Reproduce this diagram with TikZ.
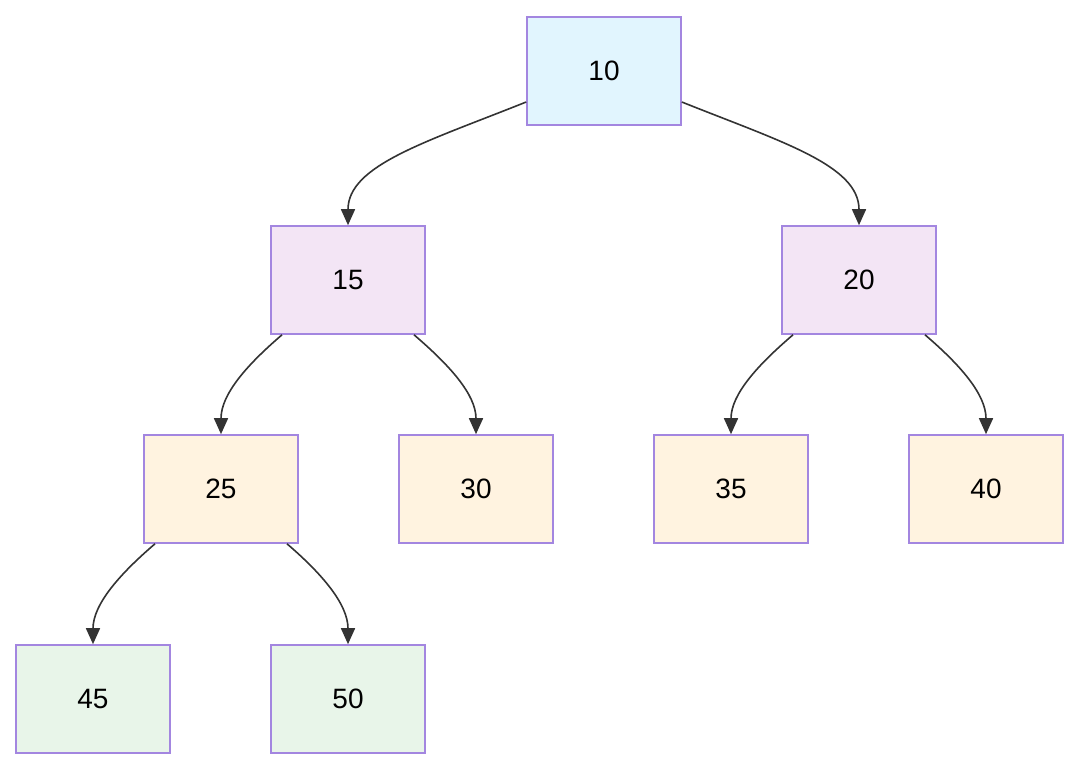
\documentclass[tikz,border=0pt]{standalone}
\usepackage{fontspec}
\setmainfont{Liberation Sans}
\usetikzlibrary{arrows.meta}
\definecolor{bordc}{HTML}{A386E0}
\definecolor{rootc}{HTML}{E1F5FE}
\definecolor{midc}{HTML}{F3E5F5}
\definecolor{lvlc}{HTML}{FFF3E0}
\definecolor{leafc}{HTML}{E8F5E9}
\definecolor{edgec}{HTML}{333333}
\tikzset{
  box/.style={draw=bordc, line width=0.8pt, minimum width=77pt, minimum height=54pt, inner sep=0pt, font=\fontsize{14}{16}\selectfont, text=black},
  rootbox/.style={box, fill=rootc},
  midbox/.style={box, fill=midc},
  lvlbox/.style={box, fill=lvlc},
  leafbox/.style={box, fill=leafc},
  edge/.style={draw=edgec, line width=0.8pt, -{Triangle[length=8pt,width=7pt]}}
}
\begin{document}
\begin{tikzpicture}[x=0.5pt,y=-0.5pt]
\useasboundingbox (0,0) rectangle (1080,770);
\node[rootbox] (n10) at (604,71) {10};
\node[midbox] (n15) at (348,280) {15};
\node[midbox] (n20) at (859,280) {20};
\node[lvlbox] (n25) at (221,489) {25};
\node[lvlbox] (n30) at (476,489) {30};
\node[lvlbox] (n35) at (731,489) {35};
\node[lvlbox] (n40) at (986,489) {40};
\node[leafbox] (n45) at (93,699) {45};
\node[leafbox] (n50) at (348,699) {50};
\draw[edge] ([yshift=-15.5pt]n10.west) .. controls +(-100,40) and +(0,-60) .. (n15.north);
\draw[edge] ([yshift=-15.5pt]n10.east) .. controls +(100,40) and +(0,-60) .. (n20.north);
\draw[edge] ([xshift=-33pt]n15.south) .. controls +(-35,30) and +(0,-40) .. (n25.north);
\draw[edge] ([xshift=33pt]n15.south) .. controls +(35,30) and +(0,-40) .. (n30.north);
\draw[edge] ([xshift=-33pt]n20.south) .. controls +(-35,30) and +(0,-40) .. (n35.north);
\draw[edge] ([xshift=33pt]n20.south) .. controls +(35,30) and +(0,-40) .. (n40.north);
\draw[edge] ([xshift=-33pt]n25.south) .. controls +(-35,30) and +(0,-40) .. (n45.north);
\draw[edge] ([xshift=33pt]n25.south) .. controls +(35,30) and +(0,-40) .. (n50.north);
\end{tikzpicture}
\end{document}
